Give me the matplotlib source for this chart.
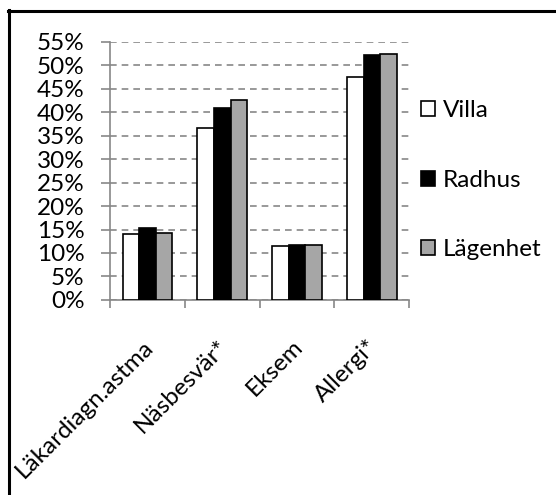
import matplotlib.pyplot as plt
import matplotlib.transforms as mtrans
import numpy as np
from matplotlib.lines import Line2D

categories = ["Läkardiagn.astma", "Näsbesvär*", "Eksem", "Allergi*"]
series = ["Villa", "Radhus", "Lägenhet"]
villa = [14.1, 36.6, 11.5, 47.4]
radhus = [15.3, 40.9, 11.6, 52.2]
lagenhet = [14.2, 42.6, 11.7, 52.4]
yticks = list(range(0, 60, 5))

plt.rcParams['font.family'] = ['Lato', 'DejaVu Sans']

fig = plt.figure(figsize=(5.56, 4.95), dpi=100)
ax = fig.add_axes([0.198, 0.394, 0.538, 0.522])

x = np.arange(len(categories))
w = 0.222
colors = ["white", "black", "#a6a6a6"]
for i, (vals, c, lab) in enumerate(zip([villa, radhus, lagenhet], colors, series)):
    ax.bar(x + (i - 1) * w, vals, w, color=c, edgecolor="black", linewidth=1.2,
           label=lab, zorder=3)

ax.set_xlim(-0.5, len(categories) - 0.5)
ax.set_ylim(0, 55)
ax.set_yticks(yticks)
ax.set_yticklabels([f"{v}%" for v in yticks])
ax.yaxis.grid(True, linestyle=(0, (4, 3)), color="#878787", linewidth=1.2, zorder=0)

ax.set_xticks(x)
ax.set_xticklabels(categories, rotation=45, ha="right", rotation_mode="anchor")
ax.set_xticks(np.arange(-0.5, len(categories)), minor=True)
ax.tick_params(axis="x", which="major", length=0, pad=26, labelsize=17.5)
ax.tick_params(axis="x", which="minor", length=6, color="#878787", width=1.2)
ax.tick_params(axis="y", length=6.5, color="#878787", width=1.2, labelsize=17.5, pad=12)

# nudge rotated labels a bit to the left
shift = mtrans.ScaledTranslation(-5 / 100, 0, fig.dpi_scale_trans)
for lbl in ax.get_xticklabels():
    lbl.set_transform(lbl.get_transform() + shift)

for s in ["top", "right"]:
    ax.spines[s].set_visible(False)
for s in ["left", "bottom"]:
    ax.spines[s].set_color("#878787")
    ax.spines[s].set_linewidth(1.2)

fig.legend(loc="upper left", bbox_to_anchor=(0.718, 0.842), frameon=False,
           fontsize=17.5, labelspacing=2.0, handlelength=0.58, handleheight=0.58,
           handletextpad=0.3)

# outer border (top and left only visible)
fig.add_artist(Line2D([0.015, 1.0], [0.978, 0.978], color="black", linewidth=2.2,
                      transform=fig.transFigure))
fig.add_artist(Line2D([0.016, 0.016], [0.0, 0.979], color="black", linewidth=2.2,
                      transform=fig.transFigure))

fig.savefig("out.png", dpi=100)
